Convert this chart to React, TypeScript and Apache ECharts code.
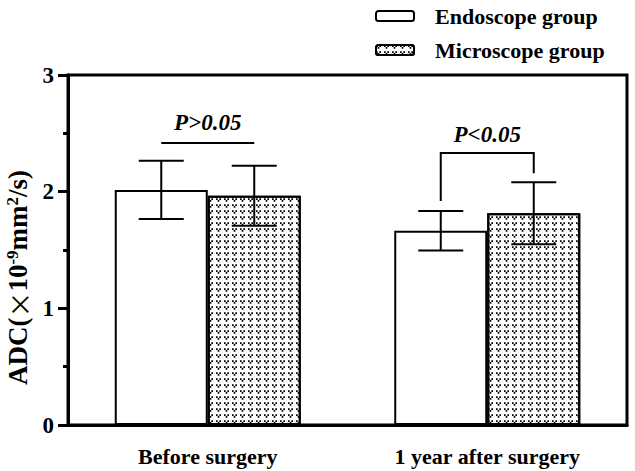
import React, { useEffect, useRef } from "react";
import * as echarts from "echarts";

const categories = ["Before surgery", "1 year after surgery"];
const seriesNames = ["Endoscope group", "Microscope group"];
const endoMeans = [2.015, 1.665];
const endoSD = [0.25, 0.17];
const microMeans = [1.965, 1.815];
const microSD = [0.258, 0.266];
const yTicks = [0, 1, 2, 3];
// significance brackets: left leg bottom, top, right leg bottom, label position
const bracketLeftY = [2.417, 1.92];
const bracketTopY = [2.417, 2.331];
const bracketRightY = [2.417, 2.157];
const pLabels = ["P>0.05", "P<0.05"];
const pLabelY = [2.59, 2.49];

const FONT = "'Liberation Serif', 'Times New Roman', serif";
const BAR_W = 93;
const CAP_W = 45;

export default function App() {
  const ref = useRef<HTMLDivElement>(null);
  useEffect(() => {
    if (!ref.current) return;
    const chart = echarts.init(ref.current, null, { renderer: "svg" });

    const errorSeries = (means: number[], sds: number[], sign: number) => ({
      type: "custom",
      z: 5,
      silent: true,
      data: categories.map((_, i) => [i, means[i], sds[i]]),
      renderItem: (params: any, api: any) => {
        const c = api.value(0);
        const m = api.value(1);
        const s = api.value(2);
        const top = api.coord([c, m + s]);
        const bot = api.coord([c, m - s]);
        const x = top[0] + (sign * BAR_W) / 2;
        const st = { stroke: "#000", lineWidth: 2 };
        return {
          type: "group",
          children: [
            { type: "line", shape: { x1: x, y1: top[1], x2: x, y2: bot[1] }, style: st },
            { type: "line", shape: { x1: x - CAP_W / 2, y1: top[1], x2: x + CAP_W / 2, y2: top[1] }, style: st },
            { type: "line", shape: { x1: x - CAP_W / 2, y1: bot[1], x2: x + CAP_W / 2, y2: bot[1] }, style: st },
          ],
        };
      },
    });

    const option: any = {
      animation: false,
      backgroundColor: "#fff",
      grid: {
        left: 68,
        right: 8,
        top: 75,
        bottom: 46,
        outerBoundsMode: "none",
        containLabel: false,
        show: true,
        borderColor: "#000",
        borderWidth: 3,
        backgroundColor: "transparent",
      },
      legend: {
        data: seriesNames,
        orient: "vertical",
        left: 370,
        top: 0,
        itemWidth: 38,
        itemHeight: 10,
        itemGap: 12,
        selectedMode: false,
        textStyle: {
          fontFamily: FONT,
          fontWeight: "bold",
          fontSize: 22,
          lineHeight: 22,
          color: "#000",
          padding: [0, 0, 0, 16],
        },
      },
      xAxis: {
        type: "category",
        data: categories,
        boundaryGap: true,
        axisLine: { lineStyle: { color: "#000", width: 3 } },
        axisTick: { alignWithLabel: true, length: 10, lineStyle: { color: "#000", width: 3 } },
        axisLabel: {
          margin: 20,
          color: "#000",
          fontFamily: FONT,
          fontWeight: "bold",
          fontSize: 22,
        },
      },
      yAxis: {
        type: "value",
        min: 0,
        max: 3,
        interval: 1,
        splitLine: { show: false },
        axisLine: { show: true, lineStyle: { color: "#000", width: 3 } },
        axisTick: { show: true, length: 10, lineStyle: { color: "#000", width: 3 } },
        minorTick: { show: true, splitNumber: 2, length: 5, lineStyle: { color: "#000", width: 3 } },
        axisLabel: {
          margin: 14,
          color: "#000",
          fontFamily: FONT,
          fontWeight: "bold",
          fontSize: 23,
          formatter: (v: number) => (yTicks.indexOf(v) >= 0 ? String(v) : ""),
        },
        name: "{b|ADC(}{x|×}{b|10}{sup|-9}{b|mm}{sup|2}{b|/s)}",
        nameLocation: "middle",
        nameGap: 22,
        nameRotate: 90,
        nameTextStyle: {
          color: "#000",
          fontFamily: FONT,
          fontWeight: "bold",
          fontSize: 27,
          padding: [0, 55, 0, 0],
          rich: {
            b: { fontFamily: FONT, fontWeight: "bold", fontSize: 27, color: "#000", lineHeight: 28 },
            x: { fontFamily: "'Noto Sans CJK SC', sans-serif", fontWeight: "normal", fontSize: 26, color: "#000", lineHeight: 28 },
            sup: { fontFamily: FONT, fontWeight: "bold", fontSize: 17, color: "#000", verticalAlign: "top", lineHeight: 28 },
          },
        },
      },
      series: [
        {
          name: seriesNames[0],
          type: "bar",
          data: endoMeans,
          barWidth: BAR_W,
          barGap: "0%",
          itemStyle: { color: "#fff", borderColor: "#000", borderWidth: 2 },
        },
        {
          name: seriesNames[1],
          type: "bar",
          data: microMeans,
          barWidth: BAR_W,
          barGap: "0%",
          itemStyle: {
            color: "#fff",
            borderColor: "#000",
            borderWidth: 2,
            decal: {
              symbol: "path://M0,0h2v2h-2zM4,0h2v2h-2zM2,2h2v2h-2z",
              symbolSize: 1,
              color: "#000",
              dashArrayX: [5, 2.3],
              dashArrayY: [4, 1.8],
              rotation: 0,
            },
          },
        },
        errorSeries(endoMeans, endoSD, -1),
        errorSeries(microMeans, microSD, 1),
        {
          type: "custom",
          z: 6,
          silent: true,
          data: categories.map((_, i) => [i, bracketLeftY[i], bracketTopY[i], bracketRightY[i], pLabelY[i]]),
          renderItem: (params: any, api: any) => {
            const c = api.value(0);
            const pl = api.coord([c, api.value(1)]);
            const pt = api.coord([c, api.value(2)]);
            const pr = api.coord([c, api.value(3)]);
            const plab = api.coord([c, api.value(4)]);
            const xl = pt[0] - BAR_W / 2;
            const xr = pt[0] + BAR_W / 2;
            return {
              type: "group",
              children: [
                {
                  type: "polyline",
                  shape: { points: [[xl, pl[1]], [xl, pt[1]], [xr, pt[1]], [xr, pr[1]]] },
                  style: { stroke: "#000", lineWidth: 2, fill: "none" },
                },
                {
                  type: "text",
                  style: {
                    text: pLabels[params.dataIndex],
                    x: plab[0],
                    y: plab[1],
                    align: "center",
                    verticalAlign: "middle",
                    font: `italic bold 23px ${FONT}`,
                    fill: "#000",
                  },
                },
              ],
            };
          },
        },
      ],
    };
    chart.setOption(option);
    return () => chart.dispose();
  }, []);
  return <div ref={ref} style={{ width: 635, height: 471, position: "absolute", left: 0, top: 0 }} />;
}
